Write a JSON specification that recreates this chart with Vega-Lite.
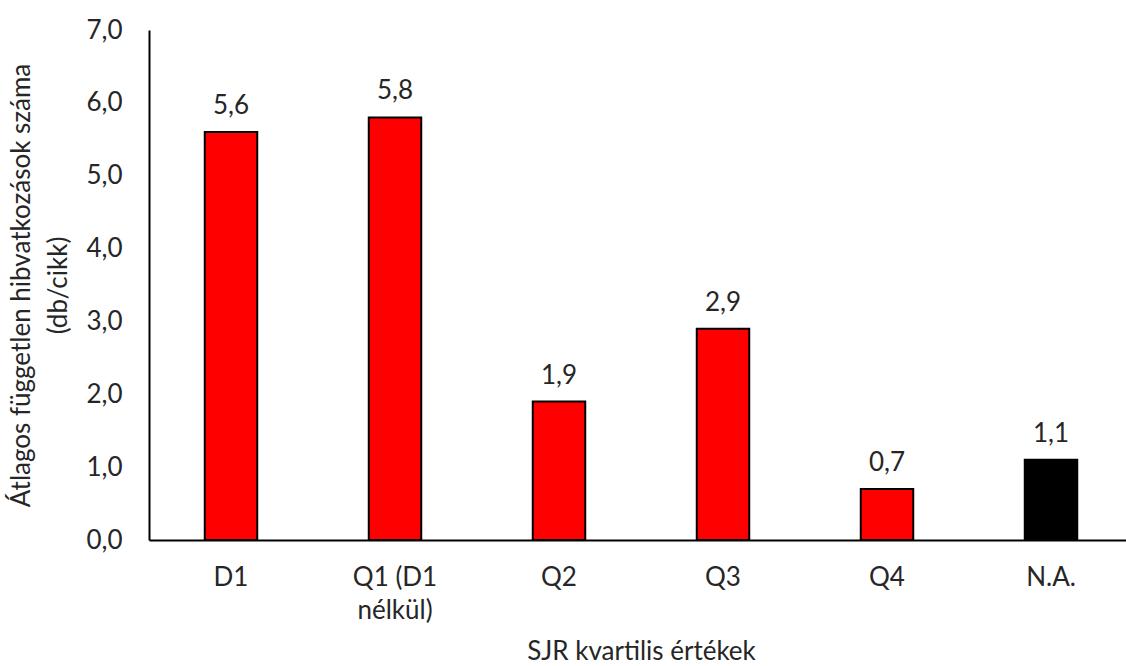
{
  "$schema": "https://vega.github.io/schema/vega-lite/v6.json",
  "width": 984,
  "height": 510,
  "padding": {"left": 149, "top": 30, "right": 0, "bottom": 126},
  "autosize": {"type": "none"},
  "background": "white",
  "config": {
    "locale": {"number": {"decimal": ",", "thousands": " ", "grouping": [3], "currency": ["", ""]}},
    "view": {"stroke": null},
    "font": "Lato"
  },
  "data": {
    "values": [
      {"category": "D1", "value": 5.6},
      {"category": "Q1 (D1 nélkül)", "value": 5.8},
      {"category": "Q2", "value": 1.9},
      {"category": "Q3", "value": 2.9},
      {"category": "Q4", "value": 0.7},
      {"category": "N.A.", "value": 1.1}
    ]
  },
  "encoding": {
    "x": {
      "field": "category",
      "type": "nominal",
      "sort": null,
      "scale": {"paddingInner": 0.68, "paddingOuter": 0.34},
      "axis": {
        "title": "SJR kvartilis értékek",
        "labelAngle": 0,
        "labelFontSize": 26,
        "labelColor": "#262626",
        "labelPadding": 24,
        "labelLineHeight": 33,
        "labelExpr": "datum.label == 'Q1 (D1 nélkül)' ? ['Q1 (D1', 'nélkül)'] : datum.label",
        "ticks": false,
        "domainColor": "#000000",
        "domainWidth": 2,
        "titleFontSize": 26,
        "titleFontWeight": "normal",
        "titleColor": "#262626",
        "titlePadding": 15,
        "grid": false
      }
    },
    "y": {
      "field": "value",
      "type": "quantitative",
      "scale": {"domain": [0, 7]},
      "axis": {
        "values": [0, 1, 2, 3, 4, 5, 6, 7],
        "format": ".1f",
        "title": ["Átlagos független hibvatkozások száma", "(db/cikk)"],
        "labelFontSize": 26,
        "labelColor": "#262626",
        "labelPadding": 27,
        "ticks": false,
        "grid": false,
        "domainColor": "#000000",
        "domainWidth": 2,
        "titleFontSize": 26,
        "titleFontWeight": "normal",
        "titleColor": "#262626",
        "titlePadding": 14,
        "titleLineHeight": 37
      }
    }
  },
  "layer": [
    {
      "mark": {"type": "bar", "stroke": "#000000", "strokeWidth": 2},
      "encoding": {
        "color": {
          "field": "category",
          "type": "nominal",
          "scale": {
            "domain": ["D1", "Q1 (D1 nélkül)", "Q2", "Q3", "Q4", "N.A."],
            "range": ["#FF0000", "#FF0000", "#FF0000", "#FF0000", "#FF0000", "#000000"]
          },
          "legend": null
        }
      }
    },
    {
      "mark": {"type": "text", "baseline": "alphabetic", "dy": -18, "fontSize": 26, "color": "#262626"},
      "encoding": {
        "text": {"field": "value", "type": "quantitative", "format": ".1f"}
      }
    }
  ]
}
